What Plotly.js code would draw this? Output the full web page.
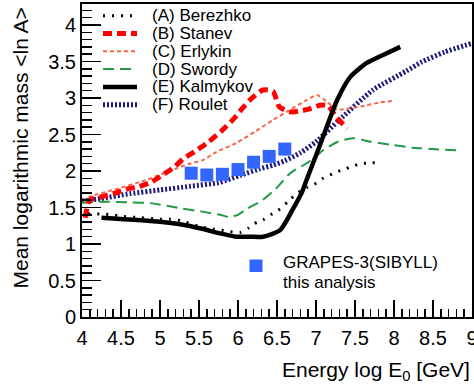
<!DOCTYPE html>
<html><head><meta charset="utf-8">
<script src="https://cdn.plot.ly/plotly-3.0.1.min.js"></script>
<style>html,body{margin:0;padding:0;background:#fff}</style>
</head><body><div id="chart" style="width:474px;height:390px"></div>
<script>
// ---- data ----
const berezhkoX = [4.08, 4.25, 4.38, 4.5, 4.75, 5.0, 5.13, 5.26, 5.51, 5.64, 5.77, 5.9, 6.03, 6.13, 6.21, 6.32, 6.42, 6.54, 6.64, 6.75, 6.88, 6.98, 7.09, 7.21, 7.32, 7.46, 7.57, 7.7, 7.82];
const berezhkoY = [1.41, 1.41, 1.40, 1.38, 1.36, 1.34, 1.34, 1.32, 1.24, 1.21, 1.19, 1.17, 1.16, 1.215, 1.28, 1.33, 1.40, 1.48, 1.58, 1.69, 1.77, 1.82, 1.90, 1.96, 2.01, 2.06, 2.10, 2.11, 2.12];

const stanevX = [4.04, 4.1, 4.23, 4.4, 4.57, 4.74, 4.89, 5.04, 5.19, 5.3, 5.45, 5.6, 5.8, 5.95, 6.05, 6.15, 6.32, 6.45, 6.53, 6.67, 6.88, 7.05, 7.15, 7.26, 7.4];
const stanevY = [1.36, 1.60, 1.64, 1.69, 1.75, 1.79, 1.85, 1.95, 2.06, 2.17, 2.27, 2.38, 2.56, 2.72, 2.85, 2.97, 3.11, 3.09, 2.88, 2.81, 2.84, 2.90, 2.90, 2.74, 2.58];

const erlykinX = [4.0, 4.1, 4.4, 4.83, 5.2, 5.38, 5.55, 5.72, 5.97, 6.22, 6.45, 6.67, 6.88, 7.01, 7.14, 7.27, 7.44, 7.65, 7.82, 8.0];
const erlykinY = [1.59, 1.65, 1.74, 1.88, 2.03, 2.10, 2.15, 2.26, 2.38, 2.54, 2.70, 2.84, 2.97, 3.04, 2.95, 2.84, 2.86, 2.90, 2.94, 2.96];

const swordyX = [4.0, 4.23, 4.62, 4.87, 5.26, 5.56, 5.77, 5.88, 6.0, 6.11, 6.3, 6.48, 6.67, 6.9, 7.1, 7.28, 7.47, 7.7, 7.96, 8.24, 8.84];
const swordyY = [1.565, 1.58, 1.57, 1.56, 1.49, 1.44, 1.40, 1.37, 1.40, 1.48, 1.59, 1.75, 1.97, 2.12, 2.29, 2.40, 2.45, 2.40, 2.36, 2.32, 2.28];

const kalmykovX = [4.25, 5.0, 5.26, 5.51, 5.77, 5.98, 6.15, 6.32, 6.54, 6.7, 6.82, 6.88, 7.01, 7.14, 7.27, 7.44, 7.65, 7.86, 8.08];
const kalmykovY = [1.36, 1.305, 1.27, 1.215, 1.145, 1.10, 1.10, 1.10, 1.19, 1.47, 1.71, 1.88, 2.24, 2.61, 2.97, 3.29, 3.48, 3.59, 3.70];

const rouletX = [4.0, 4.23, 4.62, 5.0, 5.38, 5.75, 6.03, 6.28, 6.45, 6.6, 6.8, 7.0, 7.3, 7.73, 8.16, 8.35, 8.65, 9.0];
const rouletY = [1.59, 1.62, 1.69, 1.74, 1.79, 1.84, 1.94, 2.03, 2.08, 2.14, 2.25, 2.40, 2.70, 3.11, 3.37, 3.49, 3.63, 3.75];

const grapesX = [5.4, 5.6, 5.8, 6.0, 6.2, 6.4, 6.6];
const grapesY = [1.97, 1.945, 1.955, 2.02, 2.12, 2.20, 2.30];

const legendLabels = ["(A) Berezhko", "(B) Stanev", "(C) Erlykin", "(D) Swordy", "(E) Kalmykov", "(F) Roulet"];
const grapesLabel = ["GRAPES-3(SIBYLL)", "this analysis"];
const xTitle = "Energy log E<sub>0</sub> [GeV]";
const yTitle = "Mean logarithmic mass <ln A>";

// ---- styles ----
const FONT = "Liberation Sans, Arial, Helvetica, sans-serif";
const styles = [
  {color: "#000000", width: 3, dash: "2px,7px"},
  {color: "#ff0000", width: 5, dash: "9px,5px"},
  {color: "#ff6347", width: 2, dash: "4px,3px"},
  {color: "#229944", width: 2, dash: "11px,6px"},
  {color: "#000000", width: 4.5, dash: "solid"},
  {color: "#1b1b7c", width: 5, dash: "2px,2px"}
];
const seriesX = [berezhkoX, stanevX, erlykinX, swordyX, kalmykovX, rouletX];
const seriesY = [berezhkoY, stanevY, erlykinY, swordyY, kalmykovY, rouletY];

const W = 474, H = 390, ML = 82, MR = 2, MT = 4, MB = 73;
const PW = W - ML - MR, PH = H - MT - MB;
const px2x = p => (p - ML) / PW;
const py2y = p => (H - MB - p) / PH;

const traces = [];
[5, 3, 2, 1, 0, 4].forEach(i => {
  traces.push({
    x: seriesX[i], y: seriesY[i], type: "scatter", mode: "lines",
    line: {color: styles[i].color, width: styles[i].width, dash: styles[i].dash, shape: "spline", smoothing: 0.6},
    hoverinfo: "skip", showlegend: false
  });
});
traces.push({
  x: grapesX, y: grapesY, type: "scatter", mode: "markers",
  marker: {symbol: "square", size: 13, color: "#3366ff"},
  showlegend: false, hoverinfo: "skip"
});

const shapes = [];
const annotations = [];
legendLabels.forEach((lab, i) => {
  const py = 15.7 + i * 17.8;
  shapes.push({type: "line", xref: "paper", yref: "paper",
    x0: px2x(103), x1: px2x(137), y0: py2y(py), y1: py2y(py),
    line: {color: styles[i].color, width: styles[i].width, dash: styles[i].dash}});
  annotations.push({xref: "paper", yref: "paper", x: px2x(150), y: py2y(py),
    xanchor: "left", yanchor: "middle", showarrow: false, text: lab,
    font: {family: FONT, size: 17, color: "#000"}});
});
shapes.push({type: "rect", xref: "paper", yref: "paper",
  x0: px2x(249.5), x1: px2x(262.5), y0: py2y(272), y1: py2y(259.5),
  line: {width: 0}, fillcolor: "#3366ff"});
grapesLabel.forEach((t, i) => {
  annotations.push({xref: "paper", yref: "paper", x: px2x(281), y: py2y(262 + i * 20),
    xanchor: "left", yanchor: "middle", showarrow: false, text: t,
    font: {family: FONT, size: 17, color: "#000"}});
});
annotations.push({xref: "paper", yref: "paper", x: 1, y: py2y(371),
  xanchor: "right", yanchor: "middle", showarrow: false, text: xTitle,
  font: {family: FONT, size: 21, color: "#000"}});
annotations.push({xref: "paper", yref: "paper", x: px2x(20), y: py2y(6),
  xanchor: "center", yanchor: "top", textangle: -90, showarrow: false,
  text: yTitle.replace(/</g, "&lt;").replace(/>/g, "&gt;"),
  font: {family: FONT, size: 21, color: "#000"}});

const layout = {
  width: W, height: H,
  margin: {l: ML, r: MR, t: MT, b: MB, pad: 0},
  paper_bgcolor: "#fff", plot_bgcolor: "#fff",
  font: {family: FONT, color: "#000"},
  xaxis: {range: [4, 9], tick0: 4, dtick: 0.5, ticks: "inside", ticklen: 17, tickwidth: 1.5, tickcolor: "#000",
    minor: {dtick: 0.1, ticks: "inside", ticklen: 8, tickwidth: 1.5, tickcolor: "#000"},
    showgrid: false, zeroline: false, showline: true, linecolor: "#000", linewidth: 2, mirror: true,
    tickfont: {family: FONT, size: 20, color: "#000"}, ticklabelstandoff: 2, ticklabeloverflow: "allow"},
  yaxis: {range: [0, PH / 73], tick0: 0, dtick: 0.5, ticks: "inside", ticklen: 19, tickwidth: 1.5, tickcolor: "#000",
    minor: {dtick: 0.1, ticks: "inside", ticklen: 10, tickwidth: 1.5, tickcolor: "#000"},
    showgrid: false, zeroline: false, showline: true, linecolor: "#000", linewidth: 2, mirror: true,
    tickfont: {family: FONT, size: 20, color: "#000"}, ticklabeloverflow: "allow"},
  shapes: shapes,
  annotations: annotations,
  showlegend: false
};
Plotly.newPlot("chart", traces, layout, {displayModeBar: false, staticPlot: true});
</script></body></html>
